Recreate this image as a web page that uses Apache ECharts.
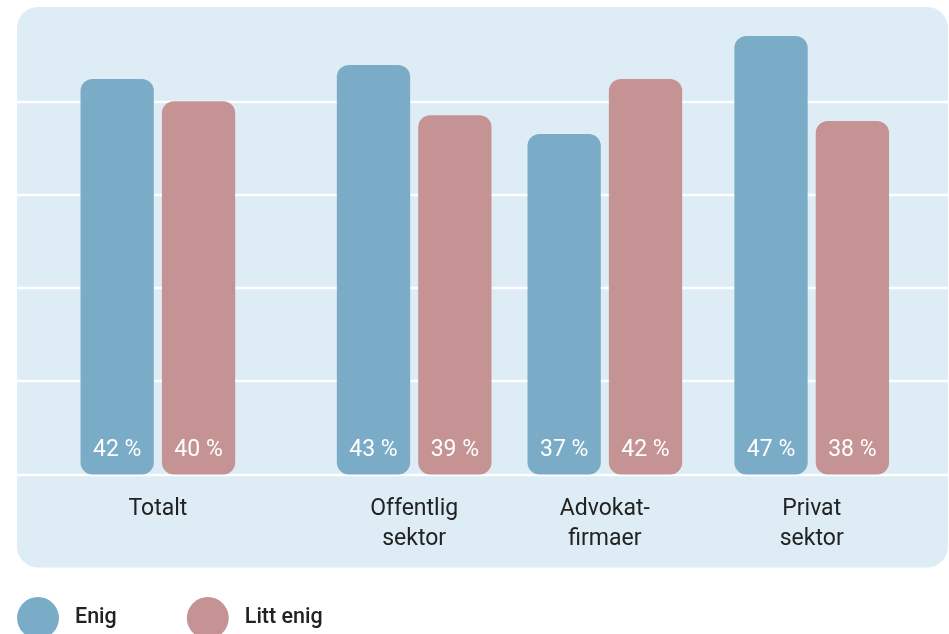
<!DOCTYPE html>
<html>
<head>
<meta charset="utf-8">
<script src="https://cdn.jsdelivr.net/npm/echarts@6/dist/echarts.min.js"></script>
<style>
html,body{margin:0;padding:0;background:#fff;}
#chart{width:949px;height:634px;}
</style>
</head>
<body>
<div id="chart"></div>
<script>
// ---- data ----
const categories = ['Totalt', 'Offentlig\nsektor', 'Advokat-\nfirmaer', 'Privat\nsektor'];
const seriesNames = ['Enig', 'Litt enig'];
const enigValues = [42.4, 43.9, 36.5, 47.0];
const littEnigValues = [40.0, 38.5, 42.4, 37.9];
const enigLabels = [42, 43, 37, 47];
const littEnigLabels = [40, 39, 42, 38];
const yTicks = [0, 10, 20, 30, 40];

// ---- layout (group centres on a 0..10 horizontal scale) ----
const groupSlots = [1.513, 4.266, 6.314, 8.536];

const colors = ['#7bacc7', '#c69395'];
const font = 'Roboto, "Noto Sans", sans-serif';

const chart = echarts.init(document.getElementById('chart'), null, {renderer: 'canvas'});

function nearestIndex(v) {
  let best = 0, bd = Infinity;
  groupSlots.forEach((s, i) => { const d = Math.abs(s - v); if (d < bd) { bd = d; best = i; } });
  return best;
}

function makeSeries(name, values, labels, color) {
  return {
    name: name,
    type: 'bar',
    barWidth: 73.3,
    barGap: '11%',
    data: values.map((v, i) => [groupSlots[i], v]),
    itemStyle: {color: color, borderRadius: 12},
    label: {
      show: true,
      position: 'insideBottom',
      distance: 12,
      color: '#ffffff',
      fontFamily: font,
      fontSize: 23,
      lineHeight: 24,
      formatter: p => labels[p.dataIndex] + ' %'
    },
    emphasis: {disabled: true},
    animation: false
  };
}

const option = {
  animation: false,
  textStyle: {fontFamily: font},
  graphic: [{
    type: 'rect',
    z: -10,
    silent: true,
    shape: {x: 17, y: 7, width: 931, height: 560.5, r: 21},
    style: {fill: '#ddecf5'}
  }],
  grid: {left: 17, right: 1, top: 8, bottom: 159.5, containLabel: false},
  xAxis: {
    type: 'value',
    min: 0,
    max: 10,
    splitLine: {show: false},
    axisTick: {show: false},
    axisLine: {show: false},
    axisLabel: {
      show: true,
      customValues: groupSlots,
      formatter: v => categories[nearestIndex(v)],
      color: '#222222',
      fontFamily: font,
      fontSize: 23,
      lineHeight: 30,
      margin: 20
    }
  },
  yAxis: {
    type: 'value',
    min: 0,
    max: 50,
    interval: 10,
    axisLabel: {show: false},
    axisTick: {show: false},
    axisLine: {show: false},
    splitLine: {show: true, showMaxLine: false, lineStyle: {color: '#ffffff', width: 2.3}}
  },
  legend: {
    left: 17,
    top: 597,
    padding: 0,
    icon: 'circle',
    itemWidth: 42,
    itemHeight: 42,
    itemGap: 70,
    data: seriesNames,
    selectedMode: false,
    textStyle: {
      color: '#222222',
      fontFamily: font,
      fontSize: 21.5,
      fontWeight: 500,
      padding: [0, 0, 0, 11]
    }
  },
  series: [
    makeSeries(seriesNames[0], enigValues, enigLabels, colors[0]),
    makeSeries(seriesNames[1], littEnigValues, littEnigLabels, colors[1])
  ]
};
chart.setOption(option);
</script>
</body>
</html>
